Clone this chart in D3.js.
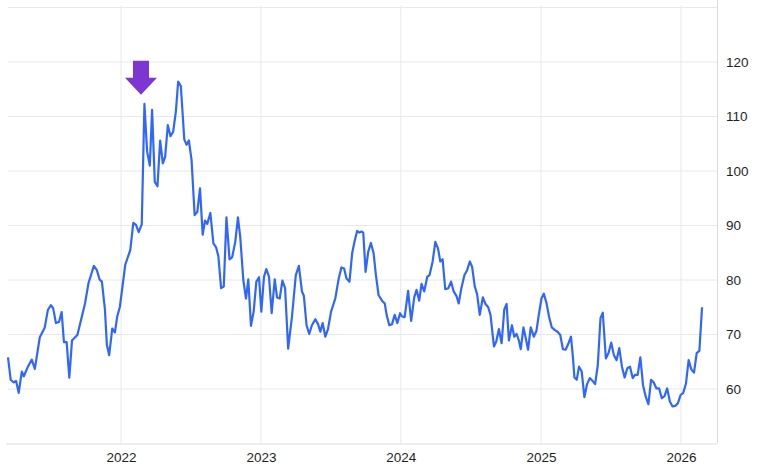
<!DOCTYPE html>
<html>
<head>
<meta charset="utf-8">
<script src="https://cdn.jsdelivr.net/npm/d3@7"></script>
<style>
  html, body { margin: 0; padding: 0; background: #ffffff; }
  svg { display: block; }
  text { font-family: "Liberation Sans", Arial, Helvetica, sans-serif; }
</style>
</head>
<body>
<svg id="chart" width="780" height="470"></svg>
<script>
const dates = [
  "2021-03-12","2021-03-19","2021-03-27","2021-04-02","2021-04-09","2021-04-17","2021-04-22","2021-05-03","2021-05-13","2021-05-21",
  "2021-06-03","2021-06-16","2021-06-24","2021-07-02","2021-07-08","2021-07-15","2021-07-23","2021-07-30","2021-08-05","2021-08-12",
  "2021-08-19","2021-08-26","2021-09-09","2021-09-29","2021-10-08","2021-10-22","2021-10-30","2021-11-06","2021-11-12","2021-11-20",
  "2021-11-25","2021-12-01","2021-12-09","2021-12-16","2021-12-22","2021-12-29","2022-01-12","2022-01-25","2022-02-02","2022-02-09",
  "2022-02-16","2022-02-24","2022-03-03","2022-03-10","2022-03-17","2022-03-23","2022-03-30","2022-04-06","2022-04-13","2022-04-20",
  "2022-04-26","2022-05-03","2022-05-10","2022-05-17","2022-05-24","2022-05-30","2022-06-06","2022-06-15","2022-06-21","2022-06-27",
  "2022-07-04","2022-07-12","2022-07-19","2022-07-26","2022-08-02","2022-08-08","2022-08-14","2022-08-22","2022-08-30","2022-09-06",
  "2022-09-12","2022-09-19","2022-09-26","2022-10-03","2022-10-11","2022-10-18","2022-10-26","2022-11-02","2022-11-08","2022-11-16",
  "2022-11-23","2022-11-29","2022-12-06","2022-12-13","2022-12-20","2022-12-27","2023-01-02","2023-01-09","2023-01-15","2023-01-22",
  "2023-01-29","2023-02-06","2023-02-12","2023-02-19","2023-02-26","2023-03-05","2023-03-13","2023-03-23","2023-04-02","2023-04-10",
  "2023-04-18","2023-04-23","2023-04-30","2023-05-07","2023-05-14","2023-05-23","2023-05-30","2023-06-05","2023-06-11","2023-06-18",
  "2023-06-25","2023-07-03","2023-07-14","2023-07-23","2023-07-30","2023-08-06","2023-08-12","2023-08-20","2023-08-27","2023-09-02",
  "2023-09-09","2023-09-15","2023-09-20","2023-09-25","2023-10-01","2023-10-08","2023-10-15","2023-10-22","2023-10-28","2023-11-04",
  "2023-11-13","2023-11-20","2023-11-25","2023-12-02","2023-12-09","2023-12-16","2023-12-23","2023-12-30","2024-01-04","2024-01-11",
  "2024-01-20","2024-01-28","2024-02-05","2024-02-11","2024-02-18","2024-02-24","2024-03-02","2024-03-10","2024-03-16","2024-03-24",
  "2024-03-31","2024-04-07","2024-04-13","2024-04-19","2024-04-26","2024-05-04","2024-05-11","2024-05-18","2024-05-25","2024-05-31",
  "2024-06-07","2024-06-15","2024-06-22","2024-06-29","2024-07-05","2024-07-12","2024-07-18","2024-07-25","2024-08-02","2024-08-09",
  "2024-08-16","2024-08-22","2024-08-31","2024-09-06","2024-09-13","2024-09-20","2024-09-27","2024-10-03","2024-10-09","2024-10-17",
  "2024-10-23","2024-10-29","2024-11-04","2024-11-09","2024-11-16","2024-11-22","2024-11-28","2024-12-05","2024-12-13","2024-12-20",
  "2024-12-26","2025-01-02","2025-01-08","2025-01-15","2025-01-22","2025-01-29","2025-02-06","2025-02-13","2025-02-20","2025-02-27",
  "2025-03-06","2025-03-13","2025-03-20","2025-03-25","2025-03-29","2025-04-04","2025-04-10","2025-04-17","2025-04-24","2025-05-01",
  "2025-05-08","2025-05-15","2025-05-22","2025-05-29","2025-06-05","2025-06-11","2025-06-19","2025-06-26","2025-07-03","2025-07-10",
  "2025-07-17","2025-07-24","2025-07-31","2025-08-07","2025-08-14","2025-08-21","2025-08-28","2025-09-03","2025-09-10","2025-09-17",
  "2025-09-24","2025-10-01","2025-10-08","2025-10-15","2025-10-22","2025-10-29","2025-11-05","2025-11-12","2025-11-19","2025-11-26",
  "2025-12-03","2025-12-10","2025-12-17","2025-12-24","2025-12-31","2026-01-07","2026-01-14","2026-01-21","2026-01-28","2026-02-04",
  "2026-02-11","2026-02-18","2026-02-25"
];
const values = [
  65.8,61.7,61.2,61.5,59.3,63.2,62.3,64.1,65.4,63.7,
  69.5,71.3,74.5,75.4,74.8,72.1,72.3,74.1,68.6,68.6,
  62.1,68.9,69.9,75.7,79.4,82.6,81.8,80.1,79.7,74.5,
  68.1,66.2,71.1,70.4,73.3,75.1,82.8,85.5,90.5,90.1,
  88.8,90.2,112.3,103.6,101.0,111.2,98.0,97.2,105.6,101.4,
  102.6,108.4,106.4,107.2,110.9,116.4,115.6,105.8,104.8,105.6,
  102.0,91.9,92.5,96.8,88.3,90.9,90.3,92.3,86.7,86.0,
  84.3,78.5,78.8,91.5,83.8,84.2,87.0,91.5,87.9,80.0,
  76.6,80.1,71.6,74.2,79.7,80.5,74.2,80.6,82.0,80.6,
  73.9,80.1,76.8,76.6,79.9,78.5,67.4,73.3,80.9,82.6,
  77.9,77.1,71.7,70.1,71.7,72.8,71.9,70.5,72.1,69.6,
  71.0,74.2,76.6,80.3,82.3,82.1,80.3,79.7,84.9,87.0,
  89.0,88.7,88.9,88.7,81.5,85.2,86.8,84.9,80.9,77.2,
  76.2,75.7,73.6,71.7,71.9,73.6,72.1,73.9,73.3,73.2,
  78.0,72.5,76.8,78.2,76.2,79.3,77.9,80.6,80.9,83.4,
  87.0,85.8,83.4,83.8,78.3,78.5,79.7,77.9,77.1,75.7,
  78.5,80.9,81.8,83.4,82.4,78.8,77.4,73.6,76.8,75.6,
  75.0,73.6,67.8,68.7,71.0,68.4,74.6,75.6,68.9,71.7,
  69.6,70.1,68.9,67.3,71.3,69.3,67.2,71.3,69.6,70.7,
  73.6,76.6,77.5,75.8,73.2,71.3,70.8,70.5,69.9,67.3,
  67.2,68.3,69.6,65.9,62.1,61.7,64.1,63.2,58.5,60.9,
  62.0,61.5,60.9,64.4,73.0,74.0,65.6,66.6,68.5,66.2,
  65.3,67.5,64.1,62.1,63.8,64.1,62.0,62.6,62.6,65.8,
  60.7,58.6,57.2,61.7,61.2,60.1,60.1,58.3,58.7,60.1,
  57.7,56.8,56.9,57.4,58.9,59.3,61.0,65.3,63.6,63.0,
  66.6,67.0,75.0
];
const yTicks = [60, 70, 80, 90, 100, 110, 120];
const yGrid = [60, 70, 80, 90, 100, 110, 120, 130];
const xTickLabels = ["2022", "2023", "2024", "2025", "2026"];
const xDomain = ["2021-03-12", "2026-04-05"];
const yDomain = [50, 130];
const arrowDate = "2022-02-22";
const arrowValue = 114;

(function () {
  const parse = d3.timeParse("%Y-%m-%d");
  const data = dates.map((d, i) => ({ date: parse(d), value: values[i] }));

  const svg = d3.select("#chart");
  const pL = 8, pR = 717, pT = 7.5, pB = 443.5;

  const x = d3.scaleTime().domain(xDomain.map(parse)).range([pL, pR]);
  const y = d3.scaleLinear().domain(yDomain).range([pB, pT]);

  const gridColor = "#e6e8ec";

  svg.append("g").selectAll("line").data(yGrid).join("line")
    .attr("x1", pL).attr("x2", pR)
    .attr("y1", d => y(d)).attr("y2", d => y(d))
    .attr("stroke", gridColor).attr("stroke-width", 1);

  const yearDates = xTickLabels.map(s => parse(s + "-01-01"));
  svg.append("g").selectAll("line").data(yearDates).join("line")
    .attr("x1", d => x(d)).attr("x2", d => x(d))
    .attr("y1", pT - 2).attr("y2", pB)
    .attr("stroke", gridColor).attr("stroke-width", 1);

  const yAxis = d3.axisRight(y).tickValues(yTicks).tickSize(0).tickPadding(9);
  const gy = svg.append("g").attr("transform", `translate(${pR},0)`).call(yAxis);
  gy.select(".domain").attr("stroke", "#d9dce1").attr("d", `M0.5,0V${pB}`);
  gy.selectAll("text").attr("font-size", 13.5).attr("fill", "#1f1f1f");

  const xAxis = d3.axisBottom(x).tickValues(yearDates).tickFormat(d3.timeFormat("%Y")).tickSize(0).tickPadding(9);
  const gx = svg.append("g").attr("transform", `translate(0,${pB})`).call(xAxis);
  gx.select(".domain").attr("stroke", "#d9dce1").attr("d", `M${pL - 2},0.5H${pR}`);
  gx.selectAll("text").attr("font-size", 13.5).attr("fill", "#1f1f1f");

  const line = d3.line().x(d => x(d.date)).y(d => y(d.value));
  svg.append("path").datum(data)
    .attr("d", line)
    .attr("fill", "none")
    .attr("stroke", "#2f66ff")
    .attr("stroke-width", 2.2)
    .attr("stroke-linejoin", "round");

  const ax = x(parse(arrowDate)), ay = y(arrowValue);
  const sw = 8, hw = 16, hh = 17, sh = 17;
  const pts = [
    [ax - sw, ay - hh - sh], [ax + sw, ay - hh - sh], [ax + sw, ay - hh],
    [ax + hw, ay - hh], [ax, ay], [ax - hw, ay - hh], [ax - sw, ay - hh]
  ];
  svg.append("polygon")
    .attr("points", pts.map(p => p.join(",")).join(" "))
    .attr("fill", "#7d36d4");
})();
</script>
</body>
</html>
